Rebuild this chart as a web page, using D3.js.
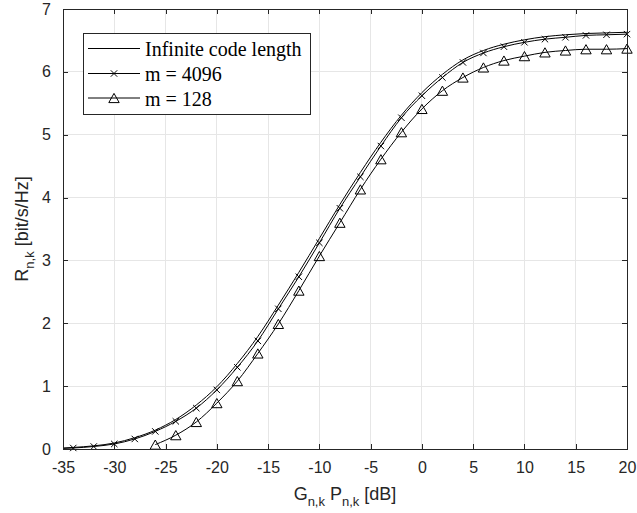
<!DOCTYPE html>
<html><head><meta charset="utf-8">
<script src="https://cdn.jsdelivr.net/npm/d3@7"></script>
<style>body{margin:0;background:#fff;} svg{display:block;}</style>
</head><body>
<script>
const xTicks = [-35,-30,-25,-20,-15,-10,-5,0,5,10,15,20];
const yTicks = [0,1,2,3,4,5,6,7];
const xCurve = [-35,-34,-32,-30,-28,-26,-24,-22,-20,-18,-16,-14,-12,-10,-8,-6,-4,-2,0,2,4,6,8,10,12,14,16,18,20];
const yInfinite = [0.015,0.025,0.05,0.095,0.18,0.30,0.47,0.70,0.99,1.36,1.79,2.29,2.81,3.35,3.89,4.40,4.88,5.31,5.67,5.96,6.19,6.34,6.44,6.51,6.56,6.59,6.61,6.62,6.63];
const y4096 = [0.01,0.016,0.04,0.08,0.16,0.28,0.44,0.65,0.94,1.30,1.72,2.23,2.74,3.28,3.83,4.33,4.82,5.27,5.62,5.91,6.15,6.30,6.40,6.47,6.52,6.55,6.58,6.59,6.60];
const x128 = [-26,-24,-22,-20,-18,-16,-14,-12,-10,-8,-6,-4,-2,0,2,4,6,8,10,12,14,16,18,20];
const y128 = [0.07,0.22,0.43,0.73,1.08,1.52,1.99,2.52,3.07,3.60,4.13,4.61,5.04,5.41,5.70,5.91,6.07,6.18,6.25,6.31,6.34,6.36,6.36,6.37];
const legendLabels = ["Infinite code length","m = 4096","m = 128"];

const W = 637, H = 513;
const L = 63, T = 9, R = 627, B = 449;
const svg = d3.select("body").append("svg").attr("width", W).attr("height", H);
const x = d3.scaleLinear().domain([-35,20]).range([L,R]);
const y = d3.scaleLinear().domain([0,7]).range([B,T]);
const axisCol = "#262626";
const fmt = d => String(d);

// grid
const g = svg.append("g");
g.selectAll(".gx").data(xTicks).enter().append("line")
  .attr("x1", d=>x(d)).attr("x2", d=>x(d)).attr("y1", T).attr("y2", B)
  .attr("stroke", "#e6e6e6").attr("stroke-width", 1).attr("shape-rendering","crispEdges");
g.selectAll(".gy").data(yTicks).enter().append("line")
  .attr("y1", d=>y(d)).attr("y2", d=>y(d)).attr("x1", L).attr("x2", R)
  .attr("stroke", "#e6e6e6").attr("stroke-width", 1).attr("shape-rendering","crispEdges");

// axes
const fontTick = "'Liberation Sans', Arial, sans-serif";
const xb = svg.append("g").attr("transform", `translate(0,${B})`)
  .call(d3.axisBottom(x).tickValues(xTicks).tickFormat(fmt).tickSizeInner(-5).tickSizeOuter(0).tickPadding(13));
const xt = svg.append("g").attr("transform", `translate(0,${T})`)
  .call(d3.axisTop(x).tickValues(xTicks).tickSizeInner(-5).tickSizeOuter(0).tickFormat(""));
const yl = svg.append("g").attr("transform", `translate(${L},0)`)
  .call(d3.axisLeft(y).tickValues(yTicks).tickFormat(fmt).tickSizeInner(-5).tickSizeOuter(0).tickPadding(12));
const yr = svg.append("g").attr("transform", `translate(${R},0)`)
  .call(d3.axisRight(y).tickValues(yTicks).tickSizeInner(-5).tickSizeOuter(0).tickFormat(""));
[xb,xt,yl,yr].forEach(a=>{
  a.selectAll("path").attr("stroke", axisCol).attr("stroke-width",1).attr("shape-rendering","crispEdges");
  a.selectAll("line").attr("stroke", axisCol).attr("shape-rendering","crispEdges");
  a.selectAll("text").attr("fill", axisCol).style("font-family", fontTick).style("font-size","16px");
});

// lines
const line = d3.line().x(d=>x(d[0])).y(d=>y(d[1])).curve(d3.curveMonotoneX);
const dInf = xCurve.map((v,i)=>[v,yInfinite[i]]);
const d4096 = xCurve.map((v,i)=>[v,y4096[i]]);
const d128 = x128.map((v,i)=>[v,y128[i]]);
const plot = svg.append("g");
[dInf,d4096,d128].forEach(d=>{
  plot.append("path").datum(d).attr("d", line).attr("fill","none").attr("stroke","#000").attr("stroke-width",1);
});
function xMark(sel, cx, cy){
  const s = 3.2;
  sel.append("path").attr("d", `M${cx-s},${cy-s}L${cx+s},${cy+s}M${cx-s},${cy+s}L${cx+s},${cy-s}`)
    .attr("stroke","#000").attr("stroke-width",1).attr("fill","none");
}
function triMark(sel, cx, cy){
  const hw = 5.2, hh = 4.6;
  sel.append("path").attr("d", `M${cx},${cy-hh}L${cx+hw},${cy+hh}L${cx-hw},${cy+hh}Z`)
    .attr("stroke","#000").attr("stroke-width",1).attr("fill","none");
}
d4096.filter(d=>d[0]%2===0).forEach(d=>xMark(plot, x(d[0]), y(d[1])));
d128.forEach(d=>triMark(plot, x(d[0]), y(d[1])));

// box
svg.append("rect").attr("x",L).attr("y",T).attr("width",R-L).attr("height",B-T)
  .attr("fill","none").attr("stroke",axisCol).attr("stroke-width",1).attr("shape-rendering","crispEdges");

// legend
const lg = svg.append("g");
lg.append("rect").attr("x",83).attr("y",33).attr("width",227).attr("height",81)
  .attr("fill","#fff").attr("stroke",axisCol).attr("stroke-width",1).attr("shape-rendering","crispEdges");
const rowsY = [48.5, 73.5, 98];
legendLabels.forEach((lab,i)=>{
  const yy = rowsY[i];
  lg.append("line").attr("x1",88).attr("x2",140).attr("y1",yy).attr("y2",yy).attr("stroke","#000").attr("stroke-width",1);
  if(i===1) xMark(lg,114,yy);
  if(i===2) triMark(lg,114,yy);
  lg.append("text").attr("x",145).attr("y",yy+7.5).text(lab)
    .style("font-family","'Liberation Serif','Times New Roman',serif").style("font-size","20px").attr("fill","#000");
});

// axis labels
const lblFont = "'Liberation Sans', Arial, sans-serif";
const xl = svg.append("text").attr("x",(L+R)/2).attr("y",500).attr("text-anchor","middle")
  .style("font-family",lblFont).style("font-size","18px").attr("fill",axisCol);
xl.append("tspan").text("G");
xl.append("tspan").text("n,k").attr("dy",6).style("font-size","13px");
xl.append("tspan").text(" P").attr("dy",-6);
xl.append("tspan").text("n,k").attr("dy",6).style("font-size","13px");
xl.append("tspan").text(" [dB]").attr("dy",-6);

const ylab = svg.append("text").attr("transform",`translate(28,${(T+B)/2}) rotate(-90)`).attr("text-anchor","middle")
  .style("font-family",lblFont).style("font-size","18px").attr("fill",axisCol);
ylab.append("tspan").text("R");
ylab.append("tspan").text("n,k").attr("dy",6).style("font-size","13px");
ylab.append("tspan").text(" [bit/s/Hz]").attr("dy",-6);
</script>
</body></html>
